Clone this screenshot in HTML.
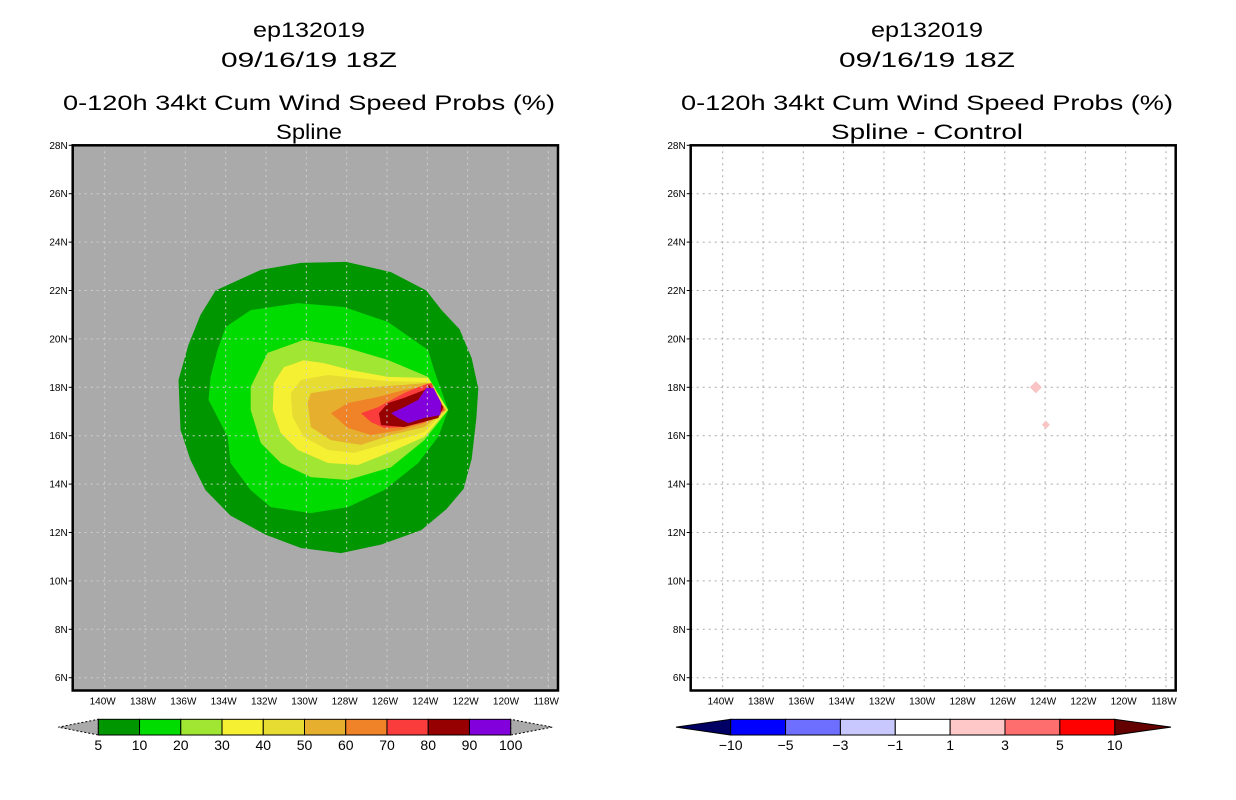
<!DOCTYPE html>
<html><head><meta charset="utf-8">
<style>
html,body{margin:0;padding:0;background:#fff;}
svg{display:block;font-family:"Liberation Sans","DejaVu Sans",sans-serif;}
</style></head>
<body>
<svg id="chart" width="1236" height="800" viewBox="0 0 1236 800">
<rect width="1236" height="800" fill="#fff"/>
<g id="left-panel"></g>
<g id="right-panel"></g>
</svg>
<script>
// ---- data ----
const latTicks=[28,26,24,22,20,18,16,14,12,10,8,6];
const lonTicks=[140,138,136,134,132,130,128,126,124,122,120,118];
const probLevels=[5,10,20,30,40,50,60,70,80,90,100];
const probColors=["#009600","#00dc00","#a0e632","#f5f032","#e6dc32","#e6af2d","#f08228","#fa3c3c","#960000","#8200dc"];
const diffLevels=[-10,-5,-3,-1,1,3,5,10];
const diffColors=["#0000ff","#6e6eff","#c8c8ff","#ffffff","#ffc8c8","#ff6e6e","#ff0000"];
const contour5=[[134.5,22.0],[132.26,22.85],[130.27,23.14],[128.03,23.18],[125.8,22.76],[124.05,22.0],[123.3,21.2],[122.4,20.4],[121.8,19.2],[121.47,17.95],[121.57,16.7],[121.8,15.05],[122.2,13.8],[123.06,12.96],[124.3,12.1],[126.3,11.5],[128.28,11.15],[130.27,11.36],[132.0,11.9],[133.76,12.7],[135.0,13.75],[135.75,15.0],[136.24,16.24],[136.34,18.3],[135.85,19.75],[135.25,20.99]];
const contour10=[[134.0,20.49],[132.76,21.19],[130.42,21.48],[128.13,21.32],[125.95,20.7],[123.96,19.54],[123.66,18.7],[122.96,17.06],[123.46,15.95],[124.45,14.87],[126.14,13.75],[127.94,13.05],[129.78,12.8],[131.77,13.05],[132.76,13.75],[133.76,14.87],[133.9,15.95],[134.85,17.48],[134.75,18.43],[134.4,19.55]];
const contour20=[[132.76,18.02],[131.92,19.42],[130.13,19.96],[128.14,19.67],[125.95,19.13],[123.96,18.43],[122.96,17.06],[124.15,15.82],[125.8,14.7],[127.94,14.17],[129.78,14.29],[131.27,14.87],[132.26,15.7],[132.76,17.06]];
const contour30=[[131.62,18.17],[131.12,18.83],[130.13,19.12],[129.13,19.0],[127.79,18.71],[125.95,18.43],[123.96,18.39],[123.0,17.06],[124.15,15.95],[125.95,15.28],[127.44,14.79],[128.93,14.87],[130.42,15.41],[131.27,16.11],[131.67,17.06]];
const contour40=[[130.77,17.76],[130.27,18.3],[128.93,18.51],[127.44,18.38],[125.95,18.25],[123.96,18.22],[123.06,17.06],[124.15,16.15],[125.95,15.7],[127.64,15.29],[128.93,15.41],[130.13,15.95],[130.68,16.78]];
const contour50=[[129.93,17.35],[129.78,17.76],[128.43,17.93],[126.79,18.01],[125.15,18.1],[123.96,18.18],[123.06,17.06],[124.15,16.36],[125.8,16.03],[127.29,15.62],[128.78,15.82],[129.78,16.36]];
const contour60=[[128.78,16.93],[127.94,17.35],[126.44,17.6],[125.15,17.89],[123.91,18.1],[123.11,17.06],[124.15,16.52],[125.3,16.24],[126.79,16.03],[127.94,16.32]];
const contour70=[[127.29,16.93],[126.44,17.18],[125.15,17.76],[124.15,18.1],[123.8,18.18],[123.16,17.06],[124.15,16.56],[125.15,16.36],[126.14,16.32],[126.79,16.56]];
const contour80=[[126.4,16.93],[125.95,17.35],[125.15,17.56],[124.15,17.89],[123.91,18.1],[123.2,17.18],[123.46,16.73],[125.15,16.36],[126.29,16.44]];
const contour90=[[125.8,16.93],[125.15,17.18],[124.45,17.48],[124.05,17.97],[123.7,17.97],[123.3,17.35],[123.36,16.85],[124.15,16.73],[124.95,16.52],[125.45,16.73]];
const diffSpotLon=[124.46,123.96];
const diffSpotLat=[18.0,16.45];
const diffSpotSize=[0.3,0.2];

// ---- helpers ----
const NS="http://www.w3.org/2000/svg";
function mk(parent,tag,attrs,text){const e=document.createElementNS(NS,tag);for(const k in attrs)e.setAttribute(k,attrs[k]);if(text!==undefined)e.textContent=text;parent.appendChild(e);return e;}
function panel(x0,x1){
  const top=145.3,bot=690.5;
  const pxPerDeg=(x1-x0-32-9.7)/22;
  const X=lon=>x0+32+(140-lon)*pxPerDeg;
  const Y=lat=>top+(28-lat)*24.2;
  return {x0,x1,top,bot,X,Y};
}
function drawAxes(g,P,gridColor){
  latTicks.forEach(lat=>{
    const l=mk(g,'line',{x1:P.x0,x2:P.x1,y1:P.Y(lat),y2:P.Y(lat),stroke:gridColor,'stroke-width':1,'stroke-dasharray':'2,4'});
    
    
    const tk=mk(g,'line',{x1:P.x0-4,x2:P.x0,y1:P.Y(lat),y2:P.Y(lat),stroke:'#000','stroke-width':1});
    
    
    const t=mk(g,'text',{x:P.x0-5,y:P.Y(lat)+3.5,'font-size':10,'text-anchor':'end',fill:'#000'},lat+'N');
    
    
  });
  lonTicks.forEach(lon=>{
    const l=mk(g,'line',{x1:P.X(lon),x2:P.X(lon),y1:P.top,y2:P.bot,stroke:gridColor,'stroke-width':1,'stroke-dasharray':'2,4'});
    
    
    const t=mk(g,'text',{x:P.X(lon)-2,y:P.bot+14,'font-size':10,'text-anchor':'middle',fill:'#000'},lon+'W');
    
    
  });
  const f=mk(g,'rect',{x:P.x0,y:P.top,width:P.x1-P.x0,height:P.bot-P.top,fill:'none',stroke:'#000','stroke-width':2.5});
  
  
}
function titles(g,cx,l3,l4,w4){
  const lines=[["ep132019",37,112],["09/16/19 18Z",67,176],[l3,110,492],[l4,139,w4]];
  const names=['storm-id-title','date-title','product-title','method-title'];
  lines.forEach((ln,i)=>{
    const t=mk(g,'text',{x:cx,y:ln[1],'font-size':21,'text-anchor':'middle',fill:'#000',textLength:ln[2],lengthAdjust:'spacingAndGlyphs'},ln[0]);
    
    
  });
}

// ---- left panel ----
const gl=document.getElementById('left-panel');
const PL=panel(72.7,558);
titles(gl,309,"0-120h 34kt Cum Wind Speed Probs (%)","Spline",66);
const bg=mk(gl,'rect',{x:PL.x0,y:PL.top,width:PL.x1-PL.x0,height:PL.bot-PL.top,fill:'#aaaaaa'});


const contours=[contour5,contour10,contour20,contour30,contour40,contour50,contour60,contour70,contour80,contour90];
contours.forEach((c,i)=>{
  const p=mk(gl,'polygon',{points:c.map(d=>PL.X(d[0]).toFixed(1)+','+PL.Y(d[1]).toFixed(1)).join(' '),fill:probColors[i]});
  
  
});
drawAxes(gl,PL,'#d0d0d0');
(function(){
  const cb=mk(gl,'g',{});
  
  
  const bx0=98.3,bx1=510.7,y0=719.3,y1=735,w=(bx1-bx0)/probColors.length;
  const lt=mk(cb,'polygon',{points:`${bx0},${y0} ${bx0},${y1} 58.3,${(y0+y1)/2}`,fill:'#aaaaaa',stroke:'#000','stroke-dasharray':'2,2','stroke-width':1});
  
  
  const rt=mk(cb,'polygon',{points:`${bx1},${y0} ${bx1},${y1} 552.3,${(y0+y1)/2}`,fill:'#aaaaaa',stroke:'#000','stroke-dasharray':'2,2','stroke-width':1});
  
  
  probColors.forEach((c,i)=>{
    const r=mk(cb,'rect',{x:bx0+i*w,y:y0,width:w,height:y1-y0,fill:c,stroke:'#000','stroke-width':1});
    
    
  });
  probLevels.forEach((v,i)=>{
    const t=mk(cb,'text',{x:bx0+i*w,y:750,'font-size':14,'text-anchor':'middle',fill:'#000'},String(v));
    
    
  });
})();

// ---- right panel ----
const gr=document.getElementById('right-panel');
const PR=panel(690.7,1175.7);
titles(gr,927,"0-120h 34kt Cum Wind Speed Probs (%)","Spline - Control",192);
const bgr=mk(gr,'rect',{x:PR.x0,y:PR.top,width:PR.x1-PR.x0,height:PR.bot-PR.top,fill:'#ffffff'});


drawAxes(gr,PR,'#aaaaaa');
diffSpotLon.forEach((lon,i)=>{
  const cx=PR.X(lon),cy=PR.Y(diffSpotLat[i]),r=diffSpotSize[i]*20.1;
  const p=mk(gr,'polygon',{points:`${cx},${cy-r} ${cx+r},${cy} ${cx},${cy+r} ${cx-r},${cy}`,fill:'#f8c4c4'});
  
  
});
(function(){
  const cb=mk(gr,'g',{});
  
  
  const bx0=730.7,bx1=1114.7,y0=719.3,y1=735,w=(bx1-bx0)/diffColors.length;
  const lt=mk(cb,'polygon',{points:`${bx0},${y0} ${bx0},${y1} 676,${(y0+y1)/2}`,fill:'#000064',stroke:'#000','stroke-width':1});
  
  
  const rt=mk(cb,'polygon',{points:`${bx1},${y0} ${bx1},${y1} 1171,${(y0+y1)/2}`,fill:'#640000',stroke:'#000','stroke-width':1});
  
  
  diffColors.forEach((c,i)=>{
    const r=mk(cb,'rect',{x:bx0+i*w,y:y0,width:w,height:y1-y0,fill:c,stroke:'#000','stroke-width':1});
    
    
  });
  diffLevels.forEach((v,i)=>{
    const t=mk(cb,'text',{x:bx0+i*w,y:750,'font-size':14,'text-anchor':'middle',fill:'#000'},v<0?'\u2212'+(-v):String(v));
    
    
  });
})();
</script>
</body></html>
